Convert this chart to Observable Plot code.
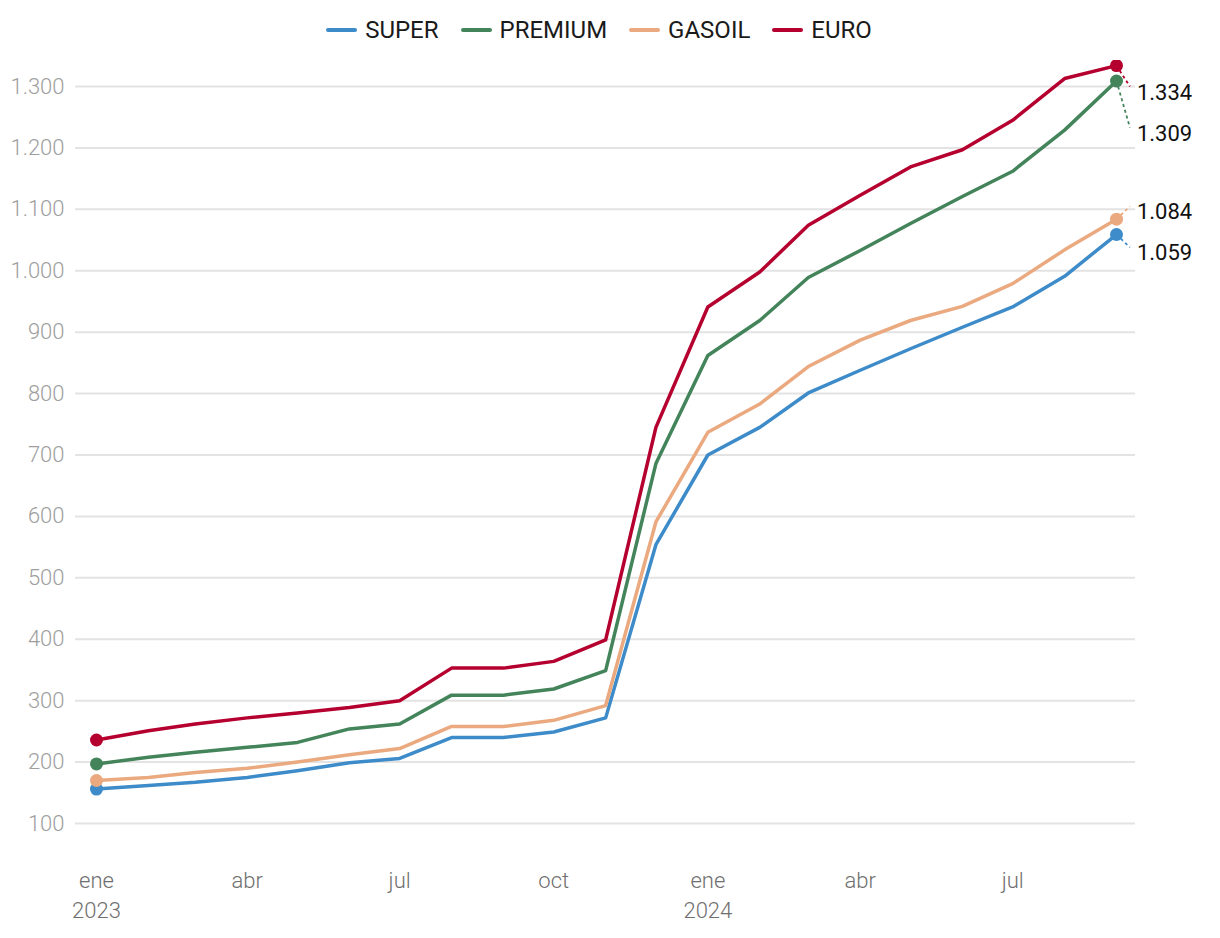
<!DOCTYPE html>
<html>
<head>
<meta charset="utf-8">
<script src="https://cdn.jsdelivr.net/npm/d3@7"></script>
<script src="https://cdn.jsdelivr.net/npm/@observablehq/plot@0.6"></script>
<style>
  body { margin: 0; background: #fff; font-family: Roboto, "Liberation Sans", sans-serif; }
  #legend { height: 60px; width: 1060px; margin-left: 69px; display: flex; justify-content: center; align-items: center; gap: 22px; font-size: 24px; color: #1a1a1a; }
  #legend .item { display: flex; align-items: center; gap: 8px; }
  #legend .sw { width: 31px; height: 4px; border-radius: 2px; }
  #chart svg { display: block; }
</style>
</head>
<body>
<div id="legend"></div>
<div id="chart"></div>
<script>
const months = ["2023-01","2023-02","2023-03","2023-04","2023-05","2023-06","2023-07","2023-08","2023-09","2023-10","2023-11","2023-12",
                "2024-01","2024-02","2024-03","2024-04","2024-05","2024-06","2024-07","2024-08","2024-09"];
const seriesNames = ["SUPER","PREMIUM","GASOIL","EURO"];
const seriesColors = ["#3d8bc9","#43845a","#eaa97f","#b5002f"];
const superVals   = [156,162,167,175,186,199,206,240,240,249,272,554,700,745,801,838,873,908,941,991,1059];
const premiumVals = [197,208,216,224,232,254,262,309,309,319,349,686,862,919,989,1033,1077,1121,1162,1229,1309];
const gasoilVals  = [170,175,183,190,200,212,222,258,258,268,292,591,737,783,844,887,919,942,979,1034,1084];
const euroVals    = [236,251,262,272,280,289,300,353,353,364,399,745,941,998,1074,1123,1169,1197,1245,1313,1334];
const monthLabels = ["ene","feb","mar","abr","may","jun","jul","ago","sep","oct","nov","dic"];
const yTicks = [100,200,300,400,500,600,700,800,900,1000,1100,1200,1300];

const valueArrays = [superVals, premiumVals, gasoilVals, euroVals];
const parse = d3.utcParse("%Y-%m");
const dates = months.map(parse);
const data = [];
seriesNames.forEach((s, i) => valueArrays[i].forEach((v, j) => data.push({serie: s, date: dates[j], value: v})));

const endpoints = data.filter(d => +d.date === +dates[0] || +d.date === +dates[dates.length - 1]);

// legend
const legend = document.getElementById("legend");
seriesNames.forEach((s, i) => {
  const it = document.createElement("div"); it.className = "item";
  const sw = document.createElement("span"); sw.className = "sw"; sw.style.background = seriesColors[i];
  const tx = document.createElement("span"); tx.textContent = s;
  it.appendChild(sw); it.appendChild(tx); legend.appendChild(it);
});

const W = 1220, H = 878, mT = 26, mB = 115, mL = 75, mR = 85;
const yDomain = [100, 1300];
const yPx = d3.scaleLinear(yDomain, [H - mB, mT]);

// end-label dodging in pixel space
const lastDate = dates[dates.length - 1];
const last = seriesNames.map((s, i) => ({serie: s, value: valueArrays[i][valueArrays[i].length - 1], color: seriesColors[i]}));
last.forEach(d => d.px = yPx(d.value));
last.sort((a, b) => a.px - b.px);
const gap = 41;
let clusters = last.map(d => ({items: [d], center: d.px}));
let changed = true;
const place = c => { const n = c.items.length; c.items.forEach((d, k) => d.pos = c.center + (k - (n - 1) / 2) * gap); };
while (changed) {
  changed = false;
  clusters.forEach(place);
  for (let i = 0; i < clusters.length - 1; i++) {
    const a = clusters[i], b = clusters[i + 1];
    if (b.items[0].pos - a.items[a.items.length - 1].pos < gap) {
      const items = a.items.concat(b.items);
      const c = {items, center: d3.mean(items, d => d.px)};
      clusters.splice(i, 2, c);
      changed = true; break;
    }
  }
}
clusters.forEach(place);
let minPos = mT;
last.forEach(d => { if (d.pos < minPos) d.pos = minPos; minPos = d.pos + gap; });
last.forEach(d => { d.labelValue = yPx.invert(d.pos); d.date = lastDate; d.date2 = d3.utcDay.offset(lastDate, 8); });

const loc = d3.formatLocale({decimal: ",", thousands: ".", grouping: [3], currency: ["", ""]});
const fmt = loc.format(",d");

const plot = Plot.plot({
  width: W, height: H,
  marginTop: mT, marginBottom: mB, marginLeft: mL, marginRight: mR,
  style: {fontFamily: "Roboto, 'Liberation Sans', sans-serif", background: "#fff"},
  x: {type: "utc", domain: [dates[0], lastDate], insetLeft: 21, insetRight: 19},
  y: {domain: yDomain},
  color: {domain: seriesNames, range: seriesColors},
  marks: [
    Plot.gridY(yTicks, {stroke: "#e3e3e3", strokeOpacity: 1, strokeWidth: 2}),
    Plot.axisY(yTicks, {tickSize: 0, tickPadding: 11, tickFormat: fmt, fontSize: 22, fontWeight: 300, fill: "#9e9e9e", label: null}),
    Plot.axisX({ticks: d3.utcMonth.every(3), tickSize: 0, tickPadding: 43, fontSize: 22, fontWeight: 300, fill: "#6f6f6f", lineHeight: 1.36, label: null,
      tickFormat: d => monthLabels[d.getUTCMonth()] + (d.getUTCMonth() === 0 ? "\n" + d.getUTCFullYear() : "")}),
    Plot.line(data, {x: "date", y: "value", z: "serie", stroke: "serie", strokeWidth: 3.5, strokeLinejoin: "round"}),
    Plot.link(last, {x1: "date", y1: "value", x2: "date2", y2: "labelValue", stroke: d => d.serie, strokeWidth: 1.8, strokeDasharray: "3,3"}),
    Plot.dot(endpoints, {x: "date", y: "value", fill: "serie", r: 6.5}),
    Plot.text(last, {x: "date2", y: "labelValue", text: d => fmt(d.value), textAnchor: "start", dx: 7, dy: 6, fontSize: 22, fill: "#111"})
  ]
});
document.getElementById("chart").appendChild(plot);
</script>
</body>
</html>
